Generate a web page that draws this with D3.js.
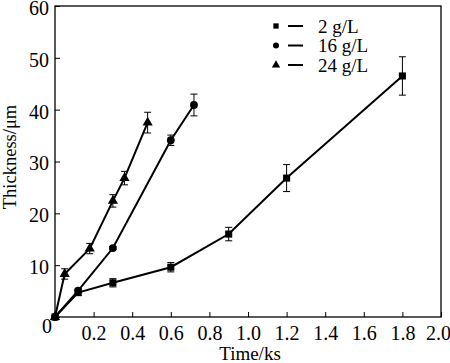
<!DOCTYPE html>
<html>
  <head>
    <script src="https://d3js.org/d3.v7.min.js"></script>
    <style>
      body { margin: 0; background: #fff; }
      svg { display: block; }
      text { font-family: "Liberation Serif", "Times New Roman", serif; fill: #000; }
    </style>
  </head>
  <body>
    <svg width="450" height="363"></svg>
    <script>
      const xTicks = [0.2, 0.4, 0.6, 0.8, 1.0, 1.2, 1.4, 1.6, 1.8, 2.0];
      const yTicks = [0, 10, 20, 30, 40, 50, 60];

      const seriesNames = ["2 g/L", "16 g/L", "24 g/L"];
      const seriesShapes = ["square", "circle", "triangle"];

      const time2 = [0, 0.12, 0.3, 0.6, 0.9, 1.2, 1.8];
      const thick2 = [0, 4.7, 6.6, 9.6, 16.0, 26.8, 46.5];
      const err2 = [0, 0.5, 0.8, 0.9, 1.3, 2.6, 3.7];

      const time16 = [0, 0.12, 0.3, 0.6, 0.72];
      const thick16 = [0, 5.1, 13.3, 34.1, 40.9];
      const err16 = [0, 0.4, 0.3, 1.0, 2.1];

      const time24 = [0, 0.05, 0.18, 0.3, 0.36, 0.48];
      const thick24 = [0, 8.3, 13.2, 22.4, 26.8, 37.5];
      const err24 = [0, 1.0, 1.0, 1.2, 1.3, 2.0];

      const series = [
        { name: seriesNames[0], shape: seriesShapes[0], t: time2, v: thick2, e: err2 },
        { name: seriesNames[1], shape: seriesShapes[1], t: time16, v: thick16, e: err16 },
        { name: seriesNames[2], shape: seriesShapes[2], t: time24, v: thick24, e: err24 }
      ];

      const svg = d3.select("svg");
      const margin = { left: 55, top: 6, right: 9, bottom: 46 };
      const W = 450, H = 363;

      const x = d3.scaleLinear().domain([0, 2]).range([margin.left, W - margin.right]);
      const y = d3.scaleLinear().domain([0, 60]).range([H - margin.bottom, margin.top]);

      // frame
      svg.append("rect")
        .attr("x", x(0)).attr("y", y(60))
        .attr("width", x(2) - x(0)).attr("height", y(0) - y(60))
        .attr("fill", "none").attr("stroke", "#000").attr("stroke-width", 1.3);

      // axes, ticks pointing inward
      const xAxis = svg.append("g")
        .attr("transform", `translate(0,${y(0)})`)
        .call(d3.axisBottom(x).tickValues(xTicks).tickFormat(d3.format(".1f"))
          .tickSizeInner(-5).tickSizeOuter(0).tickPadding(9));
      const yAxis = svg.append("g")
        .attr("transform", `translate(${x(0)},0)`)
        .call(d3.axisLeft(y).tickValues(yTicks).tickFormat(d3.format("d"))
          .tickSizeInner(-5).tickSizeOuter(0).tickPadding(6));

      [xAxis, yAxis].forEach(g => {
        g.select(".domain").remove();
        g.selectAll("line").attr("stroke", "#000").attr("stroke-width", 1);
        g.selectAll("text").attr("font-size", 20).attr("font-family", "Liberation Serif, serif").attr("fill", "#000");
      });
      xAxis.selectAll(".tick").filter(d => d === 2).select("text").attr("x", -3);
      yAxis.selectAll("text").attr("dy", "0.42em");
      yAxis.selectAll(".tick").filter(d => d === 0).select("text")
        .attr("dy", "0.75em").attr("x", -3);

      svg.append("text")
        .attr("x", (x(0) + x(2)) / 2 + 2).attr("y", 360)
        .attr("text-anchor", "middle").attr("font-size", 19)
        .text("Time/ks");
      svg.append("text")
        .attr("transform", `translate(16,157) rotate(-90)`)
        .attr("text-anchor", "middle").attr("font-size", 18.5)
        .text("Thickness/μm");

      const symbolType = { square: d3.symbolSquare, circle: d3.symbolCircle, triangle: d3.symbolTriangle };
      const symbolSize = { square: 50, circle: 48, triangle: 45 };

      const line = d3.line().x(d => x(d[0])).y(d => y(d[1]));

      series.forEach(s => {
        const pts = s.t.map((t, i) => [t, s.v[i], s.e[i]]);
        const g = svg.append("g");

        g.append("path")
          .attr("d", line(pts))
          .attr("fill", "none").attr("stroke", "#000").attr("stroke-width", 2);

        const eb = g.selectAll(".eb").data(pts.filter(p => p[2] > 0)).enter().append("g");
        eb.append("line")
          .attr("x1", d => x(d[0])).attr("x2", d => x(d[0]))
          .attr("y1", d => y(d[1] - d[2])).attr("y2", d => y(d[1] + d[2]))
          .attr("stroke", "#000").attr("stroke-width", 1);
        [-1, 1].forEach(sgn => {
          eb.append("line")
            .attr("x1", d => x(d[0]) - 3.5).attr("x2", d => x(d[0]) + 3.5)
            .attr("y1", d => y(d[1] + sgn * d[2])).attr("y2", d => y(d[1] + sgn * d[2]))
            .attr("stroke", "#000").attr("stroke-width", 1);
        });

        g.selectAll(".pt").data(pts).enter().append("path")
          .attr("transform", d => `translate(${x(d[0])},${y(d[1])})`)
          .attr("d", d3.symbol().type(symbolType[s.shape]).size(symbolSize[s.shape]))
          .attr("fill", "#000");
      });

      // legend
      const legend = svg.append("g");
      series.forEach((s, i) => {
        const ly = 26 + i * 19.5;
        legend.append("path")
          .attr("transform", `translate(276,${ly})`)
          .attr("d", d3.symbol().type(symbolType[s.shape]).size(s.shape === "triangle" ? 30 : 28))
          .attr("fill", "#000");
        legend.append("line")
          .attr("x1", 288).attr("x2", 303).attr("y1", ly).attr("y2", ly)
          .attr("stroke", "#000").attr("stroke-width", 2);
        legend.append("text")
          .attr("x", 318).attr("y", ly).attr("dy", "0.35em")
          .attr("font-size", 19)
          .text(s.name);
      });
    </script>
  </body>
</html>
